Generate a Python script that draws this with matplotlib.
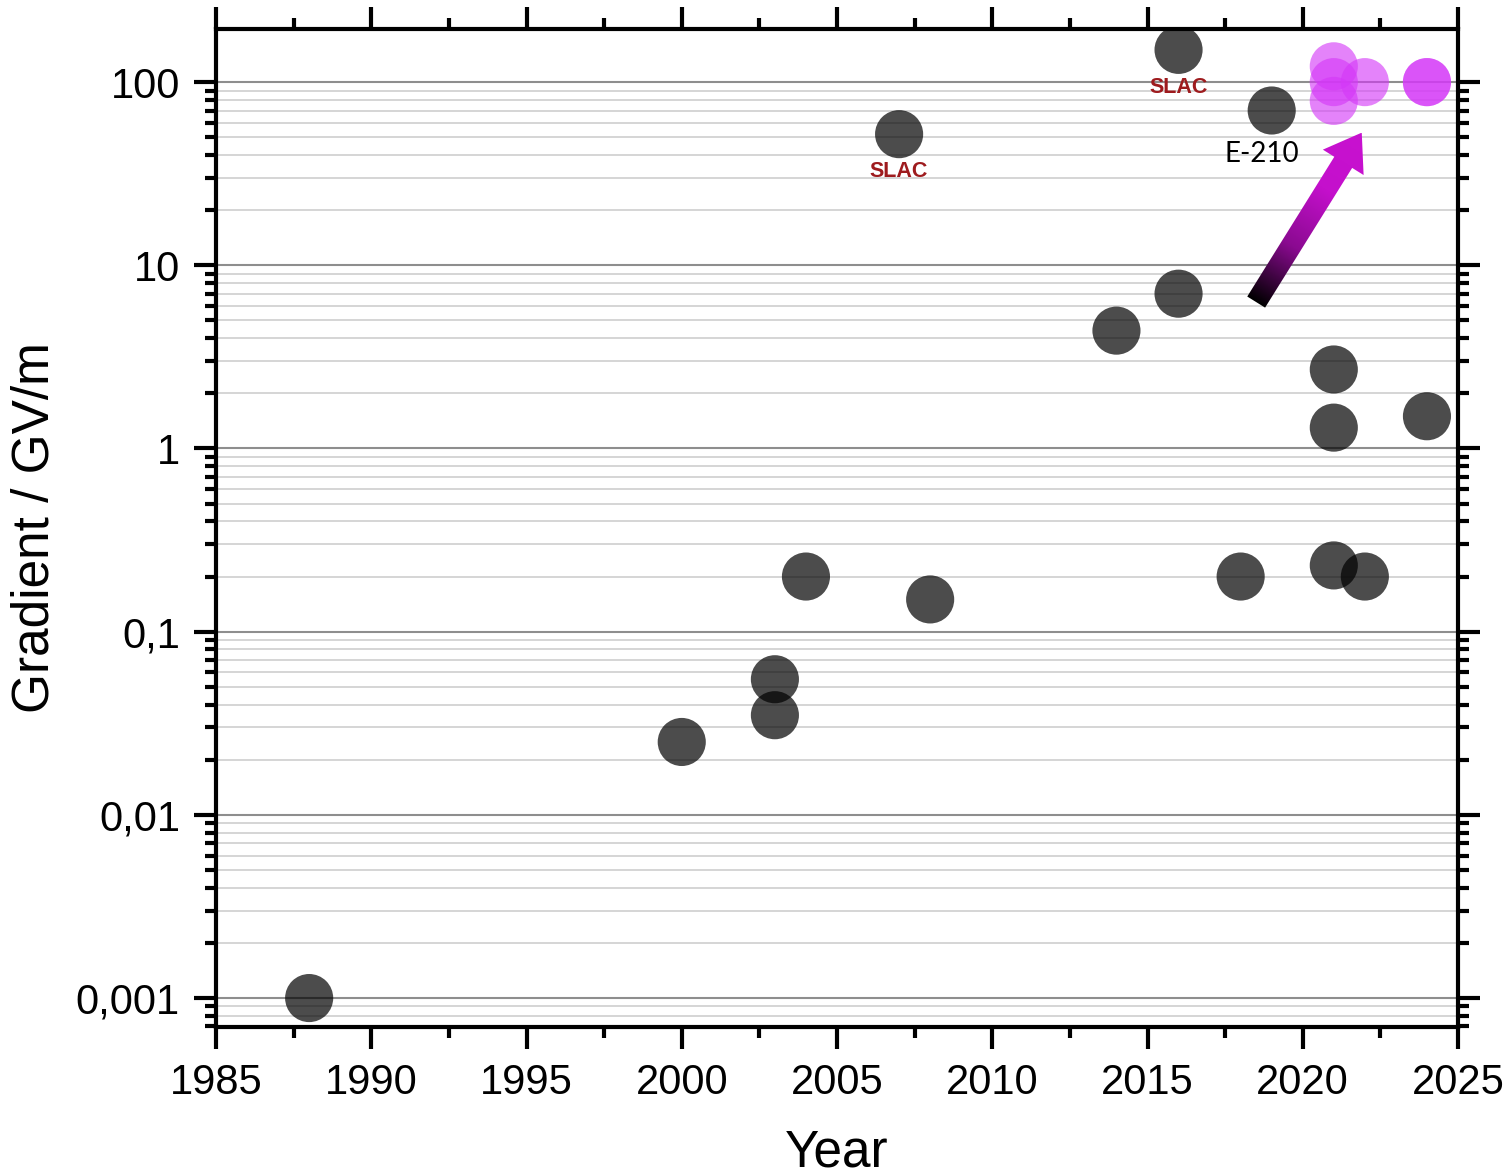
import numpy as np
import matplotlib.pyplot as plt
from matplotlib.ticker import LogLocator, FixedLocator, MultipleLocator, NullFormatter
from matplotlib.patches import Polygon
from matplotlib.colors import LinearSegmentedColormap

# measured points (black) and E-210 region points (magenta)
years = [1988, 2000, 2003, 2003, 2004, 2007, 2008, 2014, 2016, 2016,
         2018, 2019, 2021, 2021, 2021, 2022, 2024]
gradients = [0.001, 0.025, 0.055, 0.035, 0.2, 52, 0.15, 4.4, 7.0, 150,
             0.2, 70, 2.7, 1.3, 0.23, 0.2, 1.5]

e210_years = [2021, 2021, 2021, 2022, 2024, 2024]
e210_gradients = [122, 100, 79, 100, 100, 100]

slac_points = [(2007, 52), (2016, 150)]
e210_label_point = (2019, 70)
arrow_start = (2018.5, 6.3)
arrow_end = (2021.9, 53)

y_major = [0.001, 0.01, 0.1, 1, 10, 100]
y_labels = ["0,001", "0,01", "0,1", "1", "10", "100"]

plt.rcParams['font.family'] = ['Liberation Sans', 'DejaVu Sans']

W, H = 1504, 1176
fig = plt.figure(figsize=(W / 100, H / 100), dpi=100, facecolor="w")
ax = fig.add_axes([216 / W, 1 - 1027 / H, (1458 - 216) / W, (1027 - 29) / H])

ax.scatter(years, gradients, s=1200, color="black", alpha=0.7,
           edgecolors="none", zorder=3)
ax.scatter(e210_years, e210_gradients, s=1200, color=(0.83, 0.22, 0.97),
           alpha=0.62, edgecolors="none", zorder=3)

ax.set_yscale("log")
ax.set_xlim(1985, 2025)
ax.set_ylim(0.000695, 195)

ax.xaxis.set_major_locator(MultipleLocator(5))
ax.xaxis.set_minor_locator(MultipleLocator(2.5))
ax.yaxis.set_major_locator(FixedLocator(y_major))
ax.set_yticklabels(y_labels)
ax.yaxis.set_minor_locator(LogLocator(base=10, subs=np.arange(2, 10), numticks=20))
ax.yaxis.set_minor_formatter(NullFormatter())

ax.tick_params(which="both", direction="out", top=True, right=True, width=3)
ax.tick_params(which="major", length=16, labelsize=30, pad=10)
ax.tick_params(which="minor", length=8)
for sp in ax.spines.values():
    sp.set_linewidth(3)

ax.set_axisbelow(True)
ax.yaxis.grid(True, which="major", color="#8e8e8e", lw=1.5)
ax.yaxis.grid(True, which="minor", color="#d2d2d2", lw=1.3)

ax.set_xlabel("Year", fontsize=37, labelpad=18)
ax.set_ylabel("Gradient / GV/m", fontsize=37, labelpad=12)

for px, py in slac_points:
    ax.annotate("SLAC", xy=(px, py), xytext=(0, -27), textcoords="offset points",
                ha="center", va="center", fontsize=15.5, fontweight="bold",
                color="#9e1b1e", zorder=4)

ax.annotate("E-210", xy=e210_label_point, xytext=(-7, -31), textcoords="offset points",
            ha="center", va="center", fontsize=20, family=["Lato", "DejaVu Sans"],
            zorder=4)

# gradient-filled arrow, drawn in pixel space on an overlay
ov = fig.add_axes([0, 0, 1, 1], zorder=5)
ov.set_xlim(0, W)
ov.set_ylim(0, H)
ov.axis("off")
ov.patch.set_alpha(0)

p0, p1 = ax.transData.transform([arrow_start, arrow_end])
u = (p1 - p0) / np.hypot(*(p1 - p0))
n = np.array([-u[1], u[0]])
w, hw, hl = 10.5, 24, 35
neck = p1 - u * hl
pts = [p0 + n * w, neck + n * w, neck + n * hw, p1,
       neck - n * hw, neck - n * w, p0 - n * w]
poly = Polygon(pts, closed=True, facecolor="none", edgecolor="none")
ov.add_patch(poly)

xs = np.linspace(min(p[0] for p in pts), max(p[0] for p in pts), 200)
ys = np.linspace(min(p[1] for p in pts), max(p[1] for p in pts), 200)
X, Y = np.meshgrid(xs, ys)
t = ((X - p0[0]) * u[0] + (Y - p0[1]) * u[1]) / np.hypot(*(p1 - p0))
cmap = LinearSegmentedColormap.from_list("arr", ["#000000", "#8a0a90", "#c410cc", "#c812d0"])
im = ov.imshow(t, origin="lower", extent=[xs[0], xs[-1], ys[0], ys[-1]],
               cmap=cmap, vmin=0, vmax=1, aspect="auto", interpolation="bilinear")
im.set_clip_path(poly)

fig.savefig("out.png", dpi=100)
